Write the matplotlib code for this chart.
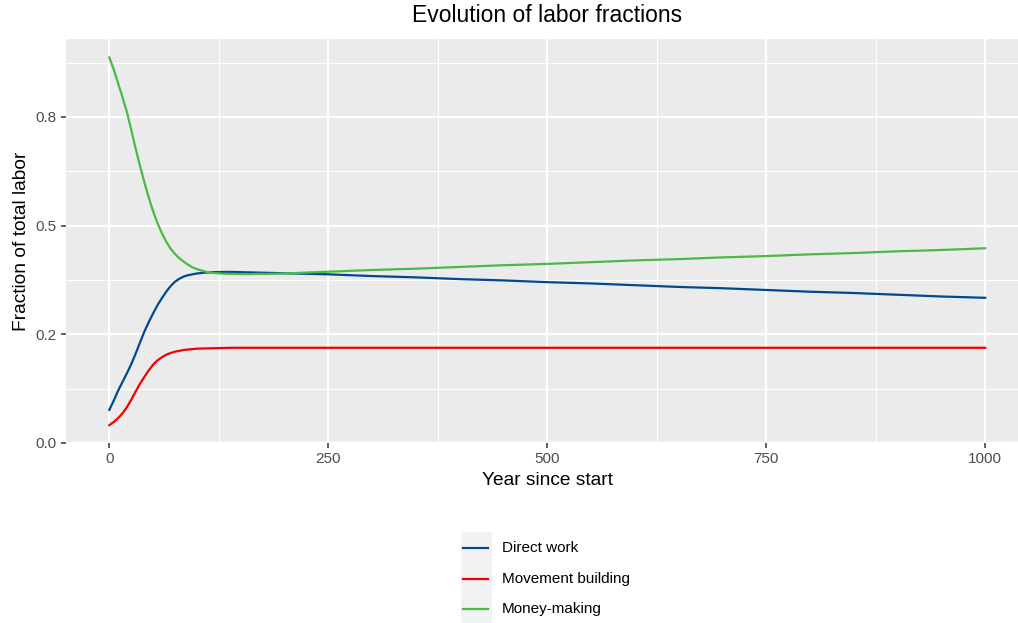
import matplotlib
matplotlib.use("Agg")
import matplotlib.pyplot as plt

plt.rcParams['font.family'] = ['Liberation Sans', 'DejaVu Sans']

#---------- Datos -------------
years = [0, 5, 10, 15, 20, 25, 30, 35, 40, 45, 50, 55, 60, 65, 70, 75, 80,
         85, 90, 95, 100, 110, 120, 130, 140, 150, 160, 170, 180, 190, 200,
         250, 300, 350, 400, 450, 500, 550, 600, 650, 700, 750, 800, 850,
         900, 950, 1000]

direct_work = [0.076, 0.097, 0.120, 0.140, 0.160, 0.181, 0.205, 0.231, 0.256,
               0.278, 0.298, 0.317, 0.333, 0.348, 0.361, 0.371, 0.378, 0.383,
               0.386, 0.388, 0.390, 0.392, 0.393, 0.3935, 0.3935, 0.393,
               0.3925, 0.392, 0.3915, 0.391, 0.3905, 0.388, 0.384, 0.381,
               0.377, 0.374, 0.370, 0.367, 0.363, 0.359, 0.356, 0.352, 0.348,
               0.345, 0.341, 0.337, 0.334]

movement_building = [0.041, 0.048, 0.057, 0.068, 0.082, 0.099, 0.118, 0.136,
                     0.152, 0.167, 0.180, 0.190, 0.197, 0.203, 0.207, 0.210,
                     0.212, 0.214, 0.215, 0.216, 0.217, 0.2175, 0.218, 0.2185,
                     0.219, 0.219, 0.219, 0.219, 0.219, 0.219, 0.219, 0.219,
                     0.219, 0.219, 0.219, 0.219, 0.219, 0.219, 0.219, 0.219,
                     0.219, 0.219, 0.219, 0.219, 0.219, 0.219, 0.219]

money_making = [0.887, 0.860, 0.828, 0.796, 0.762, 0.721, 0.678, 0.638, 0.600,
                0.565, 0.533, 0.506, 0.483, 0.463, 0.447, 0.435, 0.425, 0.417,
                0.410, 0.404, 0.400, 0.394, 0.391, 0.3895, 0.389, 0.3885,
                0.3885, 0.389, 0.389, 0.3895, 0.390, 0.394, 0.398, 0.401,
                0.405, 0.409, 0.412, 0.416, 0.420, 0.423, 0.427, 0.430, 0.434,
                0.437, 0.441, 0.444, 0.448]

series_names = ['Direct work', 'Movement building', 'Money-making']
series_colors = ['#00498F', '#F20000', '#4CB944']

x_ticks = [0, 250, 500, 750, 1000]
x_minor = [125, 375, 625, 875]
y_ticks = [0.0, 0.25, 0.5, 0.75]
y_tick_labels = ['0.0', '0.2', '0.5', '0.8']
y_minor = [0.125, 0.375, 0.625, 0.875]

#---------- Figura -------------
W, H = 1018, 623
fig = plt.figure(figsize=(W / 100, H / 100), dpi=100)

# panel en pixeles (se sale un poco por la derecha, como el original)
left, right, top, bottom = 65.5, 1029, 39.2, 443.4
ax = fig.add_axes([left / W, 1 - bottom / H, (right - left) / W, (bottom - top) / H])
ax.set_facecolor('#EBEBEB')
for s in ax.spines.values():
    s.set_visible(False)

ax.set_xlim(-50, 1050)
ax.set_ylim(-0.001, 0.929)
ax.set_xticks(x_ticks)
ax.set_xticks(x_minor, minor=True)
ax.set_yticks(y_ticks)
ax.set_yticklabels(y_tick_labels)
ax.set_yticks(y_minor, minor=True)

ax.grid(which='major', color='white', linewidth=1.6)
ax.grid(which='minor', color='white', linewidth=0.8)
ax.set_axisbelow(True)

ax.tick_params(which='major', length=3.5, width=1.1, color='#333333',
               labelcolor='#4D4D4D', labelsize=11, pad=2.7)
ax.tick_params(which='minor', length=0)

data = [direct_work, movement_building, money_making]
for vals, name, col in zip(data, series_names, series_colors):
    ax.plot(years, vals, color=col, linewidth=1.6, label=name,
            solid_joinstyle='round')

ax.set_xlabel('Year since start', fontsize=13.75, labelpad=4)
ax.set_ylabel('Fraction of total labor', fontsize=13.75, labelpad=4)

fig.text(547 / W, 1 - 16 / H, 'Evolution of labor fractions', fontsize=16.5,
         ha='center', va='center')

#---------- Leyenda manual -------------
lax = fig.add_axes([461 / W, 1 - 624 / H, 31 / W, 92 / H])
lax.set_xlim(0, 31)
lax.set_ylim(624, 532)
lax.set_facecolor('#F2F2F2')
lax.set_xticks([])
lax.set_yticks([])
for s in lax.spines.values():
    s.set_visible(False)

key_y = [548, 578.5, 609]
for yy, name, col in zip(key_y, series_names, series_colors):
    lax.plot([2, 27], [yy, yy], color=col, linewidth=1.6)
    lax.text(41, yy, name, fontsize=11, va='center', ha='left', clip_on=False)

fig.savefig('out.png', dpi=100)
